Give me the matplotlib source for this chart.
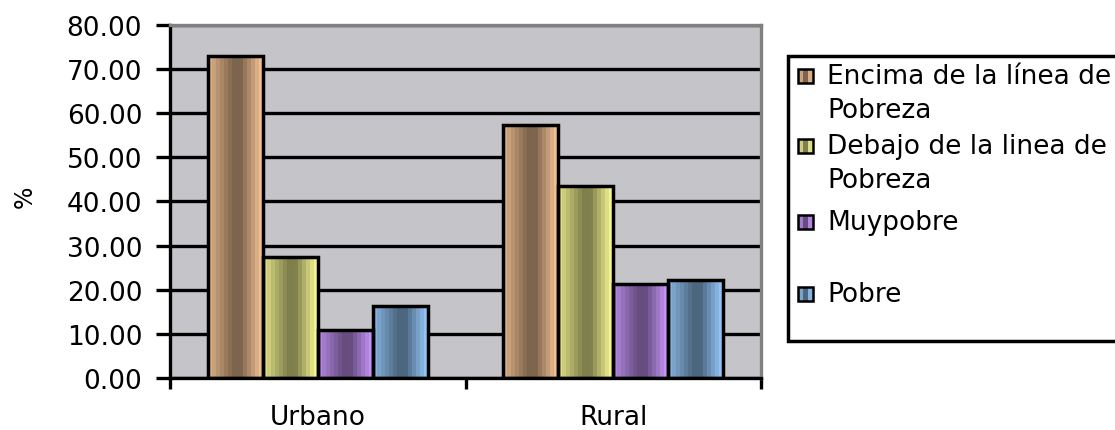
import numpy as np
import matplotlib.pyplot as plt
from matplotlib.patches import Rectangle

categories = ['Urbano', 'Rural']
series = ['Encima de la línea de\nPobreza', 'Debajo de la linea de\nPobreza', 'Muypobre', 'Pobre']
encima = [72.9, 57.3]
debajo = [27.4, 43.6]
muypobre = [10.9, 21.3]
pobre = [16.3, 22.1]
values = [encima, debajo, muypobre, pobre]
light_colors = ['#FAC898', '#FFFF99', '#CC99FF', '#99CCFF']

# cylinder-like banded shading, light at edges, dark in the middle
t_stops = [0.0, 0.2, 0.45, 0.6, 0.85, 1.0]
f_stops = [0.9, 0.72, 0.5, 0.5, 0.82, 1.0]
t = (np.arange(14) + 0.5) / 14
shade = np.interp(t, t_stops, f_stops)


def gradient(color):
    rgb = np.array(plt.matplotlib.colors.to_rgb(color))
    return (shade[:, None] * rgb[None, :])[None, :, :]


W, H = 1115, 431
fs = 19
fig = plt.figure(figsize=(W / 100, H / 100), dpi=100)
ax = fig.add_axes([170 / W, 1 - 379 / H, (761 - 170) / W, (379 - 26) / H])
ax.set_facecolor('#C5C4C8')

x = np.arange(len(categories))
width = 0.186
for i, (vals, col) in enumerate(zip(values, light_colors)):
    bars = ax.bar(x + (i - 1.5) * width, vals, width, facecolor='none',
                  edgecolor='black', linewidth=2.5, zorder=3)
    for r in bars:
        ax.imshow(gradient(col), extent=[r.get_x(), r.get_x() + r.get_width(), 0, r.get_height()],
                  aspect='auto', interpolation='nearest', zorder=2.5)

ax.set_xlim(-0.5, 1.5)
ax.set_ylim(0, 80)
ax.set_yticks(np.arange(0, 81, 10))
ax.set_yticklabels([f'{v:.2f}' for v in range(0, 81, 10)])
ax.yaxis.grid(True, color='black', linewidth=2.4)
ax.set_axisbelow(True)

ax.set_xticks([-0.5, 0.5, 1.5])
ax.set_xticklabels([])
ax.set_xticks(x, minor=True)
ax.set_xticklabels(categories, minor=True)
ax.tick_params(axis='x', which='major', direction='out', length=8, width=2.4)
ax.tick_params(axis='x', which='minor', length=0, pad=19, labelsize=fs)
ax.tick_params(axis='y', direction='out', length=10, width=2.4, pad=10, labelsize=fs)

for s in ['top', 'right']:
    ax.spines[s].set_color('#808080')
    ax.spines[s].set_linewidth(2.4)
for s in ['left', 'bottom']:
    ax.spines[s].set_color('black')
    ax.spines[s].set_linewidth(2.4)

fig.text(25 / W, 1 - 197 / H, '%', rotation=90, fontsize=17, ha='center', va='center')

# legend box (runs off the right edge like the original)
fig.patches.append(Rectangle((788 / W, 1 - 342 / H), 400 / W, 285 / H, transform=fig.transFigure,
                             facecolor='white', edgecolor='black', linewidth=2.5, zorder=1))
legend_y = [77, 147, 223, 295]
for label, col, ly in zip(series, light_colors, legend_y):
    g = gradient(col)[0]
    for k in range(3):
        c = g[[1, 6, 12][k]]
        fig.patches.append(Rectangle(((798 + k * 5) / W, 1 - (ly + 7) / H), 5 / W, 14 / H,
                                     transform=fig.transFigure, facecolor=c, edgecolor='none', zorder=2))
    fig.patches.append(Rectangle((798 / W, 1 - (ly + 7) / H), 15 / W, 14 / H, transform=fig.transFigure,
                                 facecolor='none', edgecolor='black', linewidth=1.8, zorder=3))
    fig.text(827 / W, 1 - (ly - 13) / H, label, fontsize=fs, ha='left', va='top',
             linespacing=1.4, zorder=4)

fig.savefig('out.png', dpi=100)
